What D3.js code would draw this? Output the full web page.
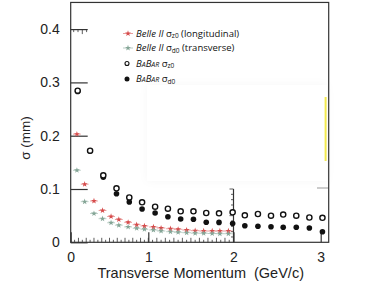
<!DOCTYPE html>
<html>
<head>
<meta charset="utf-8">
<script src="https://cdn.jsdelivr.net/npm/d3@7"></script>
<style>
  html, body { margin: 0; padding: 0; background: #fff; }
  svg { display: block; }
</style>
</head>
<body>
<svg id="chart" width="366" height="283"></svg>
<script>
// values
var belleP = [0.08, 0.18, 0.30, 0.41, 0.52, 0.62, 0.74, 0.85, 0.95, 1.06, 1.15, 1.26, 1.35, 1.45, 1.55, 1.65, 1.75, 1.84, 1.94];
var belleZ0 = [0.203, 0.109, 0.0775, 0.0597, 0.0484, 0.0428, 0.0375, 0.033, 0.0306, 0.0287, 0.0268, 0.0255, 0.0244, 0.023, 0.0218, 0.0212, 0.0212, 0.0212, 0.0212];
var belleD0 = [0.1351, 0.0762, 0.054, 0.0443, 0.0366, 0.0321, 0.0289, 0.0263, 0.0244, 0.0231, 0.0212, 0.0199, 0.0188, 0.018, 0.0171, 0.0169, 0.0165, 0.0161, 0.0161];

var babarP = [0.09, 0.25, 0.42, 0.59, 0.755, 0.92, 1.08, 1.23, 1.38, 1.53, 1.68, 1.83, 1.99, 2.13, 2.28, 2.43, 2.57, 2.72, 2.87, 3.02];
var babarZ0 = [0.2844, 0.1719, 0.1257, 0.1013, 0.0841, 0.075, 0.0668, 0.063, 0.0582, 0.0582, 0.055, 0.0544, 0.0563, 0.0507, 0.0531, 0.0499, 0.0521, 0.0499, 0.0465, 0.046];
var babarD0 = [0.2829, 0.1713, 0.122, 0.0911, 0.0756, 0.0625, 0.055, 0.048, 0.0437, 0.0432, 0.0377, 0.0373, 0.0353, 0.031, 0.03, 0.0293, 0.0281, 0.0281, 0.0268, 0.0197];

var xTicks = [0, 1, 2, 3];
var yTicks = [0, 0.1, 0.2, 0.3, 0.4];

var redCol = '#d64b4b',
  greenCol = '#84a596',
  axisCol = '#333';

var svg = d3.select('#chart');

// the x axis of the picture is not quite even, so use a piecewise scale
var x = d3.scaleLinear().domain([0, 1, 2, 3]).range([70.7, 148.3, 233.5, 320.7]);
var y = d3.scaleLinear().domain([0, 0.45]).range([242.3, 2.45]);

var plotL = 70.7, plotR = 328.7, plotT = 2.45, plotB = 242.3;

// white patch pasted over the plot (with its soft shadow)
var defs = svg.append('defs');
var f = defs.append('filter').attr('id', 'sh').attr('x', '-20%').attr('y', '-20%').attr('width', '140%').attr('height', '140%');
f.append('feDropShadow').attr('dx', 0).attr('dy', 0).attr('stdDeviation', 4).attr('flood-color', '#000').attr('flood-opacity', 0.035);

svg.append('rect')
  .attr('x', 147).attr('y', 85).attr('width', 180).attr('height', 96)
  .attr('fill', '#fff').attr('filter', 'url(#sh)');
svg.append('line')
  .attr('x1', 325.6).attr('x2', 325.6).attr('y1', 97).attr('y2', 161)
  .attr('stroke', '#f3ea4e').attr('stroke-width', 2);
svg.append('line')
  .attr('x1', 317).attr('x2', plotR).attr('y1', 188).attr('y2', 188)
  .attr('stroke', '#999').attr('stroke-width', 1);

// frame
svg.append('rect')
  .attr('x', plotL).attr('y', plotT).attr('width', plotR - plotL).attr('height', plotB - plotT)
  .attr('fill', 'none').attr('stroke', axisCol).attr('stroke-width', 1.2);

// y axis
var yAxis = d3.axisLeft(y).tickValues(yTicks).tickSize(-17).tickPadding(11)
  .tickFormat(function (d) { return d === 0 ? '0' : d3.format('.1f')(d); });
var gy = svg.append('g').attr('transform', 'translate(' + plotL + ',0)').call(yAxis);
gy.select('.domain').remove();
gy.selectAll('line').attr('stroke', axisCol).attr('stroke-width', 1.2);
gy.selectAll('text').attr('font-family', 'Liberation Sans, Arial, sans-serif').attr('font-size', 14).attr('fill', '#222');

// stray x-type ticks stuck on the 0.4 tick
svg.append('g').selectAll('line').data(d3.range(0, 4)).enter().append('line')
  .attr('x1', function (d) { return plotL + 3 + d * 4.3; })
  .attr('x2', function (d) { return plotL + 3 + d * 4.3; })
  .attr('y1', y(0.4)).attr('y2', function (d) { return y(0.4) + (d === 2 ? 5 : 3); })
  .attr('stroke', axisCol).attr('stroke-width', 0.8);

// x axis
var xAxis = d3.axisBottom(x).tickValues(xTicks).tickSize(-10).tickPadding(10).tickFormat(d3.format('d'));
var gx = svg.append('g').attr('transform', 'translate(0,' + plotB + ')').call(xAxis);
gx.select('.domain').remove();
gx.selectAll('line').attr('stroke', axisCol).attr('stroke-width', 1.2);
gx.selectAll('text').attr('font-family', 'Liberation Sans, Arial, sans-serif').attr('font-size', 14).attr('fill', '#222');

// minor ticks, only up to 2
svg.append('g').selectAll('line').data(d3.range(0.05, 2, 0.05)).enter().append('line')
  .attr('x1', function (d) { return x(d); })
  .attr('x2', function (d) { return x(d); })
  .attr('y1', plotB)
  .attr('y2', function (d) { return plotB - (Math.round(d * 20) % 2 === 0 ? 4.5 : 2.5); })
  .attr('stroke', axisCol).attr('stroke-width', 0.8);

// vertical edge at x = 2 with small ticks
svg.append('line')
  .attr('x1', x(2)).attr('x2', x(2)).attr('y1', plotB).attr('y2', y(0.1))
  .attr('stroke', axisCol).attr('stroke-width', 1.2);
svg.append('g').selectAll('line').data(d3.range(0.01, 0.101, 0.01)).enter().append('line')
  .attr('x1', x(2)).attr('x2', function (d, i) { return x(2) - (i % 5 === 4 ? 4 : 2.5); })
  .attr('y1', function (d) { return y(d); })
  .attr('y2', function (d) { return y(d); })
  .attr('stroke', axisCol).attr('stroke-width', 0.8);

// axis titles
svg.append('text')
  .attr('x', (plotL + plotR) / 2 + 1).attr('y', 278)
  .attr('text-anchor', 'middle')
  .attr('font-family', 'Liberation Sans, Arial, sans-serif').attr('font-size', 14.5).attr('fill', '#222')
  .attr('xml:space', 'preserve')
  .text('Transverse Momentum  (GeV/c)');

svg.append('text')
  .attr('transform', 'translate(30,138) rotate(-90)')
  .attr('text-anchor', 'middle')
  .attr('font-family', 'Liberation Sans, Arial, sans-serif').attr('font-size', 13.5).attr('fill', '#222')
  .text('σ (mm)');

// Belle II series: star marker with horizontal bar
function drawBelle(vals, col) {
  var g = svg.append('g');
  g.selectAll('line').data(vals).enter().append('line')
    .attr('x1', function (d, i) { return x(belleP[i] - 0.05); })
    .attr('x2', function (d, i) { return x(belleP[i] + 0.05); })
    .attr('y1', function (d) { return y(d); })
    .attr('y2', function (d) { return y(d); })
    .attr('stroke', col).attr('stroke-opacity', 0.55).attr('stroke-width', 1);
  g.selectAll('path').data(vals).enter().append('path')
    .attr('d', d3.symbol().type(d3.symbolStar).size(11))
    .attr('transform', function (d, i) { return 'translate(' + x(belleP[i]) + ',' + y(d) + ')'; })
    .attr('fill', col);
}
drawBelle(belleZ0, redCol);
drawBelle(belleD0, greenCol);

// BaBar series
svg.append('g').selectAll('circle').data(babarD0).enter().append('circle')
  .attr('cx', function (d, i) { return x(babarP[i]); })
  .attr('cy', function (d) { return y(d); })
  .attr('r', 2.8).attr('fill', '#111');
svg.append('g').selectAll('circle').data(babarZ0).enter().append('circle')
  .attr('cx', function (d, i) { return x(babarP[i]); })
  .attr('cy', function (d) { return y(d); })
  .attr('r', 2.6).attr('fill', '#fff').attr('stroke', '#111').attr('stroke-width', 1.4);

// legend
var lgX = 128, txX = 136;
var lgFont = 'Open Sans, Noto Sans, sans-serif';

function legendText(row, parts) {
  var t = svg.append('text').attr('x', txX).attr('y', row + 3.3)
    .attr('font-family', lgFont).attr('font-size', 9.5).attr('fill', '#111');
  parts.forEach(function (p) {
    var s = t.append('tspan').text(p.t);
    if (p.i) s.attr('font-style', 'italic');
    if (p.s) s.attr('font-size', p.s);
    if (p.dy) s.attr('dy', p.dy);
  });
}

var rows = [33.5, 48, 63.5, 79];

svg.append('line').attr('x1', lgX - 5).attr('x2', lgX + 5).attr('y1', rows[0]).attr('y2', rows[0])
  .attr('stroke', redCol).attr('stroke-opacity', 0.55);
svg.append('path').attr('d', d3.symbol().type(d3.symbolStar).size(11)())
  .attr('transform', 'translate(' + lgX + ',' + rows[0] + ')').attr('fill', redCol);
svg.append('line').attr('x1', lgX - 5).attr('x2', lgX + 5).attr('y1', rows[1]).attr('y2', rows[1])
  .attr('stroke', greenCol).attr('stroke-opacity', 0.55);
svg.append('path').attr('d', d3.symbol().type(d3.symbolStar).size(11)())
  .attr('transform', 'translate(' + lgX + ',' + rows[1] + ')').attr('fill', greenCol);
svg.append('circle').attr('cx', lgX - 1).attr('cy', rows[2]).attr('r', 2)
  .attr('fill', '#fff').attr('stroke', '#111').attr('stroke-width', 1.1);
svg.append('circle').attr('cx', lgX - 1).attr('cy', rows[3]).attr('r', 2.5).attr('fill', '#111');

legendText(rows[0], [{ t: 'Belle II', i: true }, { t: ' σ' }, { t: 'z0', s: 6.5, dy: 1.5 }, { t: ' (longitudinal)', dy: -1.5 }]);
legendText(rows[1], [{ t: 'Belle II', i: true }, { t: ' σ' }, { t: 'd0', s: 6.5, dy: 1.5 }, { t: ' (transverse)', dy: -1.5 }]);
legendText(rows[2], [{ t: 'B', i: true }, { t: 'A', i: true, s: 7 }, { t: 'B', i: true }, { t: 'AR', i: true, s: 7 }, { t: ' σ' }, { t: 'z0', s: 6.5, dy: 1.5 }]);
legendText(rows[3], [{ t: 'B', i: true }, { t: 'A', i: true, s: 7 }, { t: 'B', i: true }, { t: 'AR', i: true, s: 7 }, { t: ' σ' }, { t: 'd0', s: 6.5, dy: 1.5 }]);
</script>
</body>
</html>
